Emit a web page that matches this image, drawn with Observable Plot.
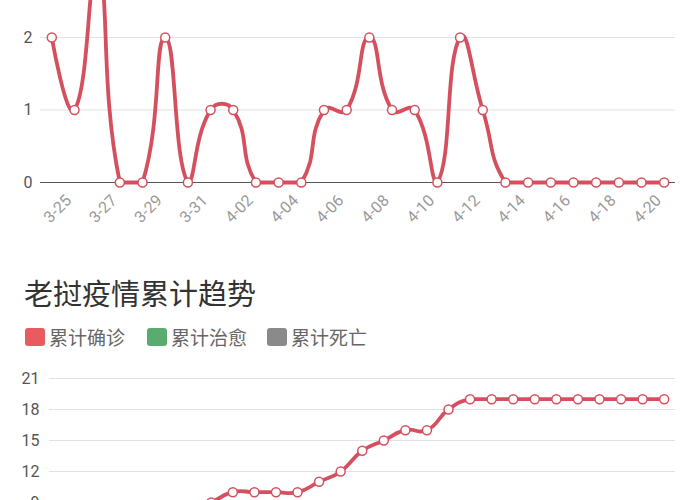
<!DOCTYPE html>
<html>
<head>
<meta charset="utf-8">
<script src="https://cdn.jsdelivr.net/npm/d3@7"></script>
<script src="https://cdn.jsdelivr.net/npm/@observablehq/plot@0.6"></script>
<style>
html,body{margin:0;padding:0;background:#fff;overflow:hidden;width:700px;height:500px}
#wrap{position:relative;width:700px;height:500px;overflow:hidden;font-family:Roboto,"Noto Sans CJK SC",sans-serif}
#top{position:absolute;left:0;top:0}
#bottom{position:absolute;left:0;top:350px}
#top svg,#bottom svg{display:block}
#title{position:absolute;left:24px;top:278px;font-size:29px;line-height:29px;color:#333;font-family:"Noto Sans CJK SC",sans-serif;white-space:nowrap}
.lg{position:absolute;top:328px;display:flex;align-items:center;font-size:19px;line-height:18px;color:#666;font-family:"Noto Sans CJK SC",sans-serif;white-space:nowrap}
.sw{width:20px;height:18px;border-radius:3px;margin-right:4px}
</style>
</head>
<body>
<div id="wrap">
  <div id="top"></div>
  <div id="title"></div>
  <div id="legend"></div>
  <div id="bottom"></div>
</div>
<script>
// ---- data ----
const dailyDates = ["3-24","3-25","3-26","3-27","3-28","3-29","3-30","3-31","4-01","4-02","4-03","4-04","4-05","4-06","4-07","4-08","4-09","4-10","4-11","4-12","4-13","4-14","4-15","4-16","4-17","4-18","4-19","4-20"];
const dailyNew = [2,1,3,0,0,2,0,1,1,0,0,0,1,1,2,1,1,0,2,1,0,0,0,0,0,0,0,0];
const dailyTickLabels = ["3-25","3-27","3-29","3-31","4-02","4-04","4-06","4-08","4-10","4-12","4-14","4-16","4-18","4-20"];
const dailyYTicks = [0,1,2];

const cumDates = ["3-24","3-25","3-26","3-27","3-28","3-29","3-30","3-31","4-01","4-02","4-03","4-04","4-05","4-06","4-07","4-08","4-09","4-10","4-11","4-12","4-13","4-14","4-15","4-16","4-17","4-18","4-19","4-20","4-21"];
const cumConfirmed = [2,3,6,6,6,8,8,9,10,10,10,10,11,12,14,15,16,16,18,19,19,19,19,19,19,19,19,19,19];
const cumYTicks = [9,12,15,18,21];

const titleText = "老挝疫情累计趋势";
const legendNames = ["累计确诊","累计治愈","累计死亡"];
const legendColors = ["#e85b5e","#5aab6f","#8a8a8a"];
const lineColor = "#d5505f";

// ---- smoothing curve (segment-length weighted bezier, control points kept inside the data's bounding box) ----
function SmoothCurve(ctx){ this._ctx = ctx; }
SmoothCurve.prototype = {
  areaStart(){}, areaEnd(){},
  lineStart(){ this._p = []; },
  point(x, y){ this._p.push([+x, +y]); },
  lineEnd(){
    const p = this._p, c = this._ctx, s = 0.5, n = p.length;
    if (!n) return;
    const xs = p.map(d => d[0]), ys = p.map(d => d[1]);
    const mn = [Math.min(...xs), Math.min(...ys)], mx = [Math.max(...xs), Math.max(...ys)];
    const clamp = v => [Math.max(mn[0], Math.min(mx[0], v[0])), Math.max(mn[1], Math.min(mx[1], v[1]))];
    c.moveTo(p[0][0], p[0][1]);
    let cp0 = [p[0][0], p[0][1]];
    for (let i = 1; i < n; i++) {
      const cur = p[i], prev = p[i-1], next = p[i+1];
      let cp1, ratio = 0.5, v = [0, 0];
      if (!next) cp1 = [cur[0], cur[1]];
      else {
        v = [next[0]-prev[0], next[1]-prev[1]];
        const lp = Math.hypot(cur[0]-prev[0], cur[1]-prev[1]);
        const ln = Math.hypot(next[0]-cur[0], next[1]-cur[1]);
        ratio = (lp + ln) > 0 ? ln / (ln + lp) : 0.5;
        cp1 = [cur[0]-v[0]*s*(1-ratio), cur[1]-v[1]*s*(1-ratio)];
      }
      const a = clamp(cp0), b = clamp(cp1);
      c.bezierCurveTo(a[0], a[1], b[0], b[1], cur[0], cur[1]);
      cp0 = [cur[0]+v[0]*s*ratio, cur[1]+v[1]*s*ratio];
    }
  }
};
const smoothCurve = ctx => new SmoothCurve(ctx);

// ---- top chart: daily new (visible part of a chart scrolled above the view) ----
const topRows = dailyDates.map((d,i)=>({date:d, value:dailyNew[i]}));
const topPlot = Plot.plot({
  width:700, height:240,
  marginTop:0, marginBottom:58, marginLeft:40, marginRight:25,
  style:{fontFamily:"Roboto, sans-serif", color:"#555", background:"transparent"},
  x:{type:"point", domain:dailyDates, range:[51.3, 663.7], padding:0, round:false, axis:null},
  y:{domain:[0,3], range:[182, -35.5], axis:null},
  marks:[
    Plot.ruleY(dailyYTicks.filter(v=>v>0), {stroke:"#e2e2e2", strokeWidth:1.2}),
    Plot.ruleY([0], {stroke:"#555", strokeWidth:1.2}),
    Plot.axisY({ticks:dailyYTicks, tickFormat:"d", tickSize:0, tickPadding:8, fontSize:16, label:null, fill:"#555"}),
    Plot.text(dailyTickLabels, {x:d=>d, frameAnchor:"bottom", dx:-2, dy:19, rotate:-45, textAnchor:"end", fill:"#9a9a9a", fontSize:16}),
    Plot.line(topRows, {x:"date", y:"value", stroke:lineColor, strokeWidth:3.8, curve:smoothCurve}),
    Plot.dot(topRows, {x:"date", y:"value", r:4.5, fill:"white", stroke:lineColor, strokeWidth:1.5})
  ]
});
document.getElementById("top").appendChild(topPlot);

// ---- title & legend ----
document.getElementById("title").textContent = titleText;
const legendLeft = [25,147,267];
const lg = document.getElementById("legend");
legendNames.forEach((n,i)=>{
  const it = document.createElement("div");
  it.className = "lg";
  it.style.left = legendLeft[i]+"px";
  const sw = document.createElement("div");
  sw.className = "sw";
  sw.style.background = legendColors[i];
  const t = document.createElement("span");
  t.textContent = n;
  it.appendChild(sw); it.appendChild(t);
  lg.appendChild(it);
});

// ---- bottom chart: cumulative (lower part runs below the view) ----
const botRows = cumDates.map((d,i)=>({date:d, value:cumConfirmed[i]}));
const botPlot = Plot.plot({
  width:700, height:150,
  marginTop:0, marginBottom:0, marginLeft:49, marginRight:25,
  style:{fontFamily:"Roboto, sans-serif", color:"#555", background:"transparent"},
  x:{type:"point", domain:cumDates, range:[59.8, 663.7], padding:0, round:false, axis:null},
  y:{domain:[0,21], range:[245, 28], axis:null},
  marks:[
    Plot.ruleY(cumYTicks, {stroke:"#e2e2e2", strokeWidth:1.2}),
    Plot.axisY({ticks:cumYTicks, tickFormat:"d", tickSize:0, tickPadding:10, fontSize:16, label:null, fill:"#555"}),
    Plot.line(botRows, {x:"date", y:"value", stroke:lineColor, strokeWidth:3.8, curve:smoothCurve}),
    Plot.dot(botRows, {x:"date", y:"value", r:4.5, fill:"white", stroke:lineColor, strokeWidth:1.5})
  ]
});
document.getElementById("bottom").appendChild(botPlot);
</script>
</body>
</html>
